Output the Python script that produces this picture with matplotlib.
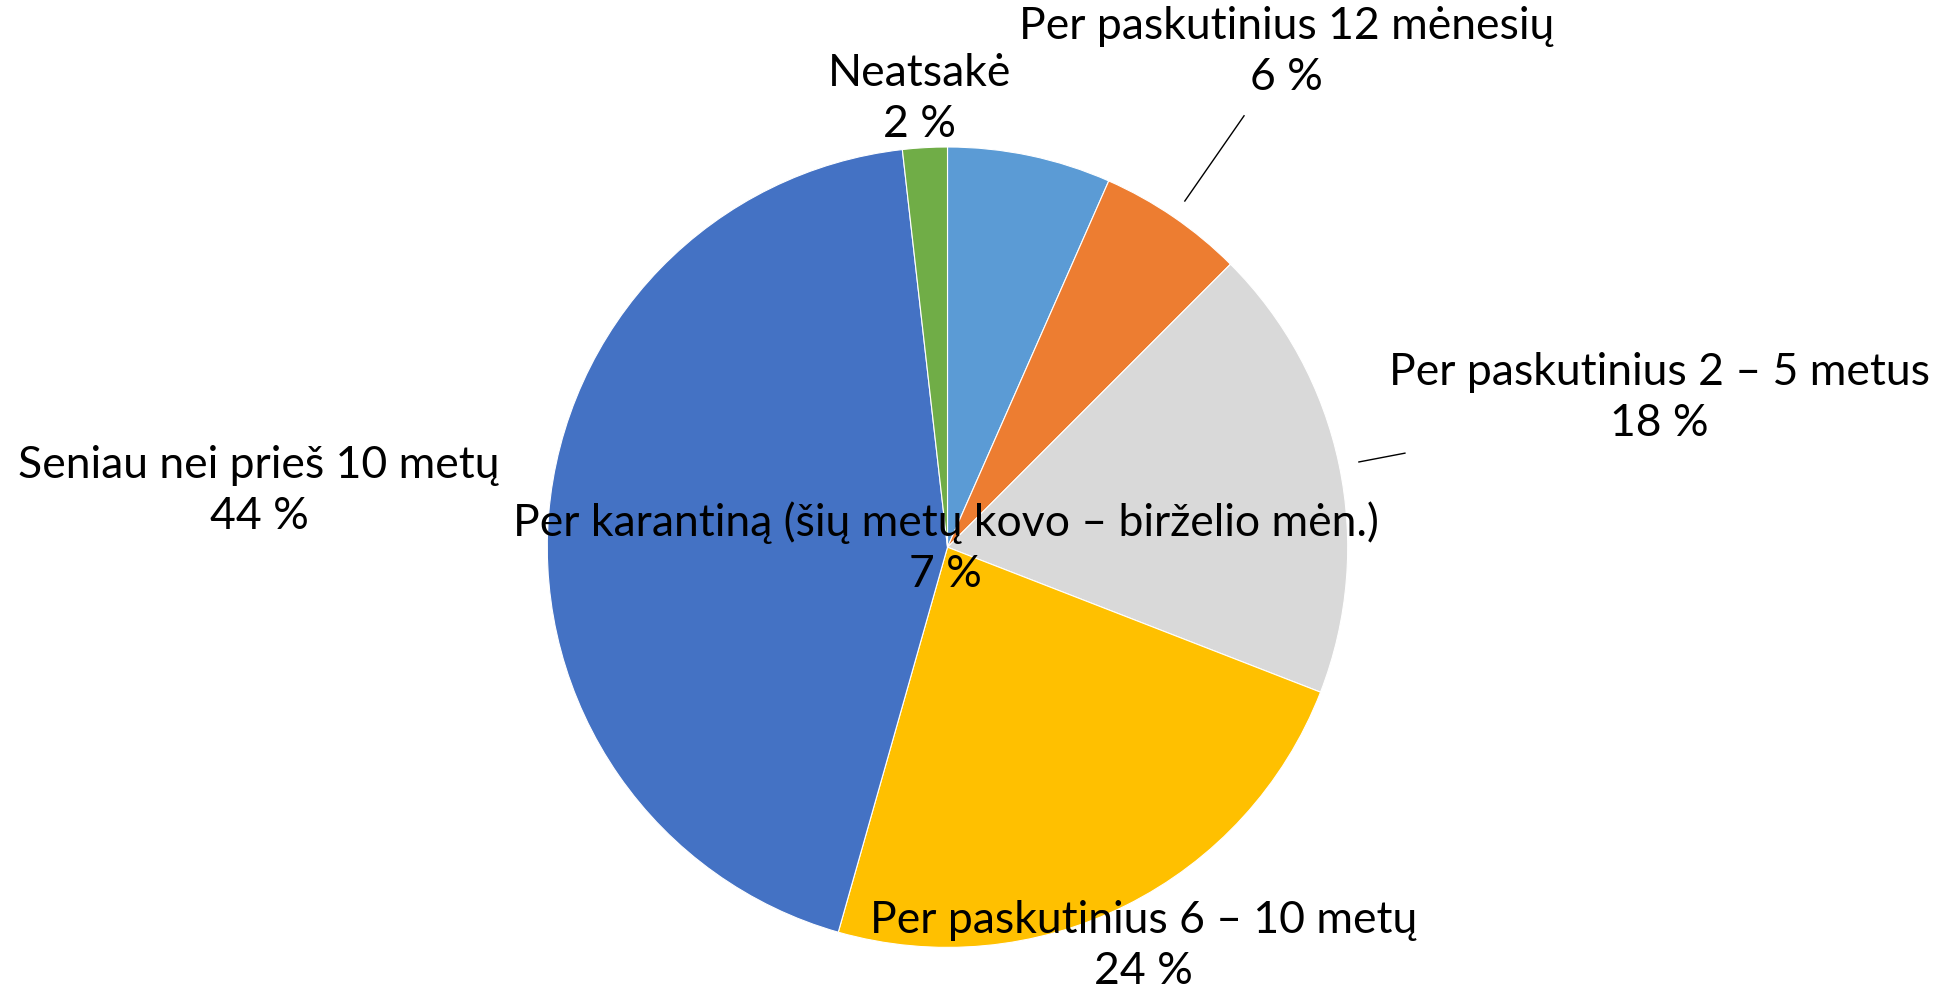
import matplotlib
matplotlib.use("Agg")
import matplotlib.pyplot as plt

# Data
categories = [
    "Per karantiną (šių metų kovo – birželio mėn.)",
    "Per paskutinius 12 mėnesių",
    "Per paskutinius 2 – 5 metus",
    "Per paskutinius 6 – 10 metų",
    "Seniau nei prieš 10 metų",
    "Neatsakė",
]
values = [6.6, 5.9, 18.4, 23.5, 43.8, 1.8]
percent_labels = ["7 %", "6 %", "18 %", "24 %", "44 %", "2 %"]
colors = ["#5B9BD5", "#ED7D31", "#D9D9D9", "#FFC000", "#4472C4", "#70AD47"]

# Label layout (data units, pie radius = 1)
label_pos = [(-0.004, -0.002), (0.848, 1.237), (1.778, 0.373),
             (0.489, -0.997), (-1.720, 0.140), (-0.069, 1.120)]
leaders = {1: ((0.741, 1.078), (0.593, 0.865)),
           2: ((1.143, 0.235), (1.028, 0.213))}

plt.rcParams['font.family'] = ['Lato', 'DejaVu Sans']

W, H = 1937, 990
fig = plt.figure(figsize=(W / 100, H / 100), dpi=100)
ax = fig.add_axes([0, 0, 1, 1])
cx, cy, r = 947.5, 547.2, 400.2

ax.pie(values, colors=colors, startangle=90, counterclock=False, radius=1,
       center=(0, 0), frame=True,
       wedgeprops=dict(edgecolor='white', linewidth=0.8))
ax.set_xlim(-cx / r, (W - cx) / r)
ax.set_ylim((cy - H) / r, cy / r)
ax.set_aspect('auto')
ax.axis('off')

for i, (cat, pl) in enumerate(zip(categories, percent_labels)):
    x, y = label_pos[i]
    ax.text(x, y, f"{cat}\n{pl}", ha='center', va='center', fontsize=32,
            color='black', linespacing=1.3)

for i, ((x0, y0), (x1, y1)) in leaders.items():
    ax.plot([x0, x1], [y0, y1], color='black', linewidth=1)

fig.savefig("out.png", dpi=100, facecolor='white')
